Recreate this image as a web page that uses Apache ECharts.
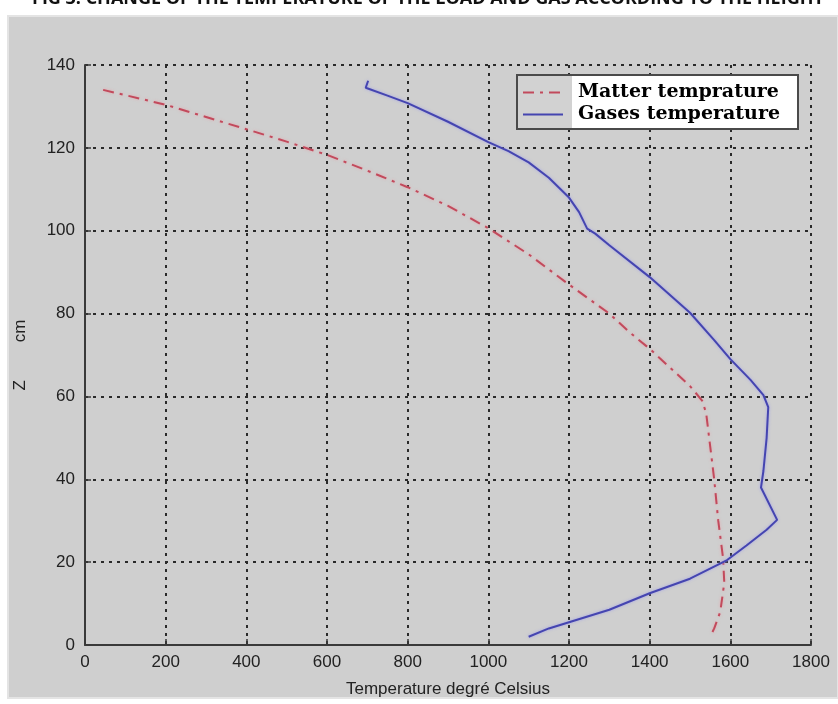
<!DOCTYPE html>
<html>
<head>
<meta charset="utf-8">
<script src="https://cdn.jsdelivr.net/npm/echarts@6/dist/echarts.min.js"></script>
<style>
html,body{margin:0;padding:0;background:#fff;}
#chart{width:838px;height:704px;}
</style>
</head>
<body>
<div id="chart"></div>
<script>
// ---- data ----
const titleText = 'FIG 3. CHANGE OF THE TEMPERATURE OF THE LOAD AND GAS ACCORDING TO THE HEIGHT';
const seriesNames = ['Matter temprature', 'Gases temperature'];
const xName = 'Temperature degré Celsius';
const yName = 'Z        cm';

const matterT = [45, 200, 400, 500, 600, 700, 800, 900, 1000, 1100, 1200, 1300, 1350, 1400, 1450, 1500, 1530, 1540, 1550, 1560, 1570, 1582, 1585, 1575, 1560, 1550];
const matterZ = [134, 130.4, 124.5, 121.5, 118.3, 114.5, 110.5, 106, 100.6, 94.3, 87, 80, 75.5, 71.5, 67, 62.5, 59, 56, 48, 40, 30, 21, 15, 8, 4, 2];

const gasT = [702, 696, 750, 800, 900, 1000, 1050, 1100, 1150, 1200, 1225, 1245, 1265, 1300, 1400, 1500, 1560, 1600, 1650, 1682, 1694, 1690, 1682, 1676, 1716, 1690, 1640, 1592, 1500, 1400, 1300, 1200, 1150, 1100];
const gasZ = [136.2, 134.5, 132.6, 130.8, 126.3, 121.4, 119.2, 116.5, 112.8, 108, 104.5, 100.5, 99.3, 96.5, 88.8, 80.2, 73.6, 69, 64, 60.3, 57.4, 50, 42, 38, 30.2, 27.8, 24, 20.5, 16, 12.5, 8.5, 5.5, 4, 2];

const xMin = 0, xMax = 1800, xStep = 200;
const yMin = 0, yMax = 140, yStep = 20;

// ---- chart ----
const pairs = (a, b) => a.map((v, i) => [v, b[i]]);
const chart = echarts.init(document.getElementById('chart'), null, {renderer: 'canvas'});

const gridLine = {show: true, lineStyle: {color: '#2a2a2a', width: 2, type: [3, 5]}};
const labelFont = {fontFamily: 'Liberation Sans', fontSize: 17, color: '#222', formatter: v => String(v)};

chart.setOption({
  backgroundColor: '#ffffff',
  animation: false,
  graphic: [
    {type: 'rect', shape: {x: 8, y: 16, width: 830, height: 682}, style: {fill: '#cfcfcf', stroke: '#e4e4e4', lineWidth: 2}, z: -10, silent: true},
    {type: 'text', x: 32, y: 8, style: {text: titleText, font: 'bold 18px "Open Sans"', fill: '#111', verticalAlign: 'bottom'}, z: 5, silent: true},
    {type: 'rect', shape: {x: 517, y: 75, width: 281, height: 54}, style: {fill: '#ffffff', stroke: '#4a4a4a', lineWidth: 2}, z: 10, silent: true},
    {type: 'rect', shape: {x: 518, y: 76, width: 54, height: 52}, style: {fill: '#d2d2d2'}, z: 11, silent: true}
  ],
  grid: {left: 85, right: 27, top: 65, bottom: 59, containLabel: false, show: false},
  legend: {
    orient: 'vertical',
    left: 522,
    top: 83,
    itemWidth: 40,
    itemHeight: 14,
    itemGap: 3,
    padding: 0,
    z: 20,
    itemStyle: {opacity: 0},
    textStyle: {fontFamily: 'DejaVu Serif', fontWeight: 'bold', fontSize: 19, color: '#000', padding: [0, 0, 0, 10]},
    data: seriesNames
  },
  xAxis: {
    type: 'value', min: xMin, max: xMax, interval: xStep,
    name: xName, nameLocation: 'middle', nameGap: 36,
    nameTextStyle: {fontFamily: 'Liberation Sans', fontSize: 17, color: '#222'},
    axisLine: {show: true, onZero: false, lineStyle: {color: '#3a3a3a', width: 2}},
    axisTick: {show: true, inside: true, length: 6, lineStyle: {color: '#3a3a3a', width: 1.5}},
    axisLabel: Object.assign({margin: 9}, labelFont),
    splitLine: gridLine
  },
  yAxis: {
    type: 'value', min: yMin, max: yMax, interval: yStep,
    name: yName, nameLocation: 'middle', nameGap: 56, nameRotate: 90,
    nameTextStyle: {fontFamily: 'Liberation Sans', fontSize: 17, color: '#222'},
    axisLine: {show: true, onZero: false, lineStyle: {color: '#3a3a3a', width: 2}},
    axisTick: {show: true, inside: true, length: 6, lineStyle: {color: '#3a3a3a', width: 1.5}},
    axisLabel: Object.assign({margin: 10}, labelFont),
    splitLine: gridLine
  },
  series: [
    {
      name: seriesNames[0], type: 'line', data: pairs(matterT, matterZ),
      showSymbol: false, symbol: 'none', smooth: false, z: 3,
      lineStyle: {color: '#c24a5c', width: 2, type: [11, 6, 3, 6], shadowColor: 'rgba(240,150,160,0.7)', shadowBlur: 3},
      itemStyle: {color: '#c24a5c'}
    },
    {
      name: seriesNames[1], type: 'line', data: pairs(gasT, gasZ),
      showSymbol: false, symbol: 'none', smooth: false, z: 3,
      lineStyle: {color: '#4545b0', width: 2, shadowColor: 'rgba(150,150,240,0.8)', shadowBlur: 3},
      itemStyle: {color: '#4545b0'}
    }
  ]
});
</script>
</body>
</html>
